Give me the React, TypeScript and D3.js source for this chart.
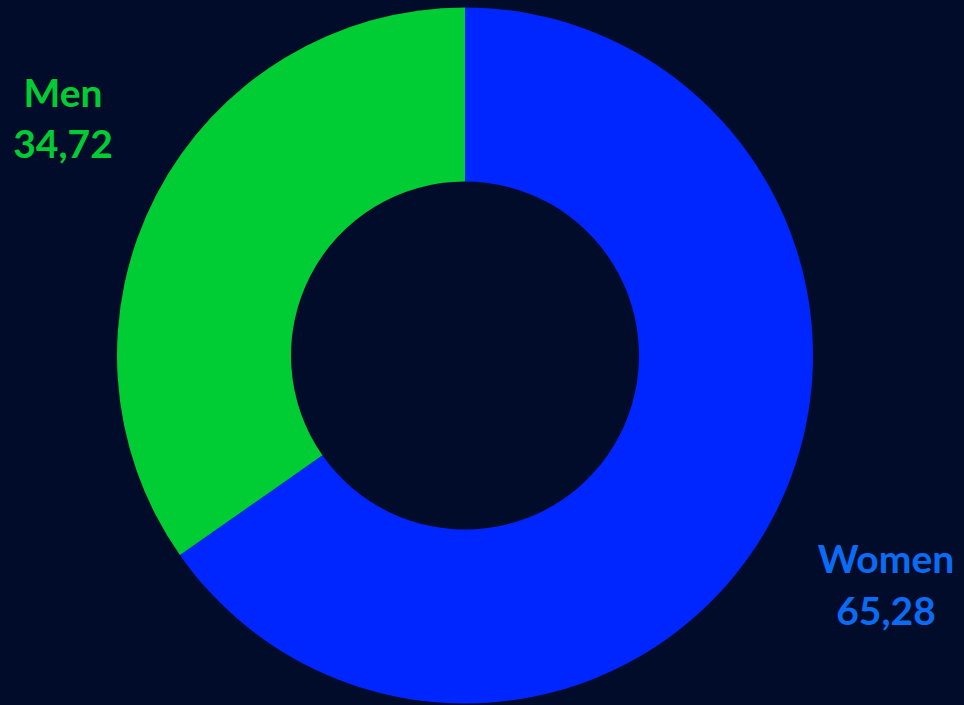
import React from "react";
import * as d3 from "d3";

const categories = ["Women", "Men"];
const values = [65.28, 34.72];
const valueLabels = ["65,28", "34,72"];
const sliceColors = ["#0026ff", "#00cc33"];
const labelColors = ["#0a6cf5", "#00cc33"];

export default function App() {
  const W = 964, H = 705;
  const cx = 465, cy = 355.5, rOuter = 348, rInner = 174;
  const pie = d3.pie<number>().sort(null).value((d) => d)(values);
  const arc = d3.arc<d3.PieArcDatum<number>>().innerRadius(rInner).outerRadius(rOuter);
  const labelPos = [
    { x: 886, y1: 573, y2: 625 },
    { x: 63, y1: 107, y2: 158 },
  ];
  return (
    <svg width={W} height={H} style={{ position: "fixed", left: 0, top: 0, display: "block" }}>
      <rect width={W} height={H} fill="#000c29" />
      <g transform={`translate(${cx},${cy})`}>
        {pie.map((p, i) => (
          <path key={i} d={arc(p) || ""} fill={sliceColors[i]} />
        ))}
      </g>
      {categories.map((c, i) => (
        <g key={c} fontFamily="Lato, 'Open Sans', sans-serif" fontWeight="bold" fontSize={39} fill={labelColors[i]} textAnchor="middle">
          <text x={labelPos[i].x} y={labelPos[i].y1}>{c}</text>
          <text x={labelPos[i].x} y={labelPos[i].y2}>{valueLabels[i]}</text>
        </g>
      ))}
    </svg>
  );
}
